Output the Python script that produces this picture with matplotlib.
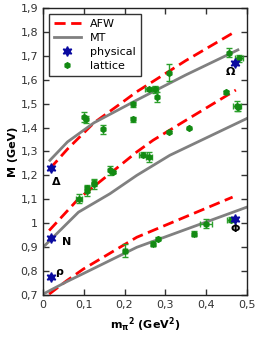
import matplotlib
matplotlib.use("Agg")
import matplotlib.pyplot as plt
from matplotlib.lines import Line2D
from matplotlib.ticker import FuncFormatter, MultipleLocator

# AFW curves (red dashed)
afw_up_x = [0.017, 0.06, 0.125, 0.19, 0.23, 0.35, 0.47]
afw_up_y = [1.228, 1.31, 1.42, 1.50, 1.55, 1.68, 1.80]
afw_mid_x = [0.015, 0.087, 0.164, 0.23, 0.27, 0.35, 0.473]
afw_mid_y = [0.969, 1.102, 1.207, 1.298, 1.347, 1.43, 1.557]
afw_low_x = [0.015, 0.058, 0.099, 0.23, 0.465]
afw_low_y = [0.703, 0.759, 0.808, 0.941, 1.109]

# MT curves (gray)
mt_up_x = [0.017, 0.06, 0.125, 0.23, 0.35, 0.478]
mt_up_y = [1.263, 1.34, 1.42, 1.515, 1.62, 1.725]
mt_mid_x = [0.0, 0.087, 0.164, 0.23, 0.311, 0.5]
mt_mid_y = [0.899, 1.046, 1.123, 1.20, 1.284, 1.438]
mt_low_x = [0.0, 0.058, 0.1, 0.23, 0.5]
mt_low_y = [0.703, 0.755, 0.79, 0.899, 1.067]

# physical masses
phys_x = [0.0195, 0.0195, 0.0195, 0.47, 0.47]
phys_y = [0.775, 0.939, 1.232, 1.672, 1.019]
phys_names = ["ρ", "N", "Δ", "Ω", "Φ"]
name_x = [0.030, 0.046, 0.021, 0.449, 0.459]
name_y = [0.794, 0.920, 1.172, 1.634, 0.976]

# lattice data
lat_x = [0.20, 0.27, 0.282, 0.37, 0.40, 0.461,
         0.088, 0.108, 0.108, 0.125, 0.125, 0.164, 0.172, 0.246, 0.26, 0.308, 0.357, 0.449, 0.476, 0.478,
         0.101, 0.105, 0.148, 0.221, 0.221, 0.261, 0.275, 0.279, 0.308, 0.455, 0.481]
lat_y = [0.885, 0.914, 0.935, 0.956, 0.998, 1.015,
         1.103, 1.145, 1.135, 1.162, 1.17, 1.221, 1.214, 1.287, 1.277, 1.382, 1.397, 1.547, 1.49, 1.485,
         1.445, 1.434, 1.392, 1.497, 1.434, 1.56, 1.56, 1.529, 1.63, 1.714, 1.69]
lat_yerr = [0.027, 0.01, 0.005, 0.01, 0.02, 0.01,
            0.02, 0.015, 0.02, 0.02, 0.015, 0.02, 0.005, 0.01, 0.02, 0.005, 0.003, 0.008, 0.02, 0.015,
            0.02, 0.015, 0.02, 0.01, 0.01, 0.005, 0.015, 0.02, 0.035, 0.02, 0.015]
lat_xerr = [0.005, 0.005, 0.0, 0.005, 0.015, 0.01,
            0.008, 0.0, 0.0, 0.0, 0.0, 0.0, 0.0, 0.01, 0.008, 0.0, 0.0, 0.0, 0.01, 0.0,
            0.0, 0.0, 0.0, 0.0, 0.0, 0.01, 0.008, 0.0, 0.0, 0.0, 0.01]

plt.rcParams['font.family'] = ['DejaVu Sans']
fig = plt.figure(figsize=(2.74, 3.51), dpi=100)
ax = fig.add_axes([0.157, 0.160, 0.744, 0.817])

red = "#ff0000"
gray = "#808080"
blue = "#0a0aa0"
green = "#138a13"
ax.plot(afw_up_x, afw_up_y, color=red, lw=2, dashes=(4, 2))
ax.plot(afw_mid_x, afw_mid_y, color=red, lw=2, dashes=(4, 2))
ax.plot(afw_low_x, afw_low_y, color=red, lw=2, dashes=(4, 2))
ax.plot(mt_up_x, mt_up_y, color=gray, lw=2)
ax.plot(mt_mid_x, mt_mid_y, color=gray, lw=2)
ax.plot(mt_low_x, mt_low_y, color=gray, lw=2)

ax.plot(phys_x, phys_y, ls="none", marker=(6, 1, 0), ms=7, color=blue, zorder=5)
ax.errorbar(lat_x, lat_y, yerr=lat_yerr, xerr=lat_xerr, fmt="h", ms=4,
            color=green, ecolor="#2ca02c", elinewidth=1, capsize=2.5, zorder=4)

for n, x, y in zip(phys_names, name_x, name_y):
    ax.text(x, y, n, fontsize=8, fontweight="bold", ha="left", va="center")

ax.set_xlim(0, 0.5)
ax.set_ylim(0.7, 1.9)
ax.xaxis.set_major_locator(MultipleLocator(0.1))
ax.yaxis.set_major_locator(MultipleLocator(0.1))
fmt = FuncFormatter(lambda v, p: ("%g" % round(v, 2)).replace(".", ","))
ax.xaxis.set_major_formatter(fmt)
ax.yaxis.set_major_formatter(fmt)
ax.tick_params(direction="in", top=True, right=True, labelsize=8, colors="#333333",
               length=4, width=1)
for s in ax.spines.values():
    s.set_color("#222222")
    s.set_linewidth(1)

ax.set_xlabel(r"$\mathbf{m_{\pi}}^\mathbf{2}$ (GeV$^\mathbf{2}$)", fontsize=8, fontweight="bold")
ax.set_ylabel("M (GeV)", fontsize=8, fontweight="bold", labelpad=2)

handles = [Line2D([], [], color=red, lw=2, dashes=(4, 2)),
           Line2D([], [], color=gray, lw=2),
           Line2D([], [], ls="none", marker=(6, 1, 0), ms=7, color=blue),
           Line2D([], [], ls="none", marker="h", ms=4, color=green)]
leg = ax.legend(handles, ["AFW", "MT", "physical", "lattice"], loc="upper left",
                fontsize=8, fancybox=False, edgecolor="#333333", framealpha=1,
                handlelength=2.4, borderpad=0.5, labelspacing=0.35)
leg.get_frame().set_linewidth(1)

fig.savefig("out.png", dpi=100)
